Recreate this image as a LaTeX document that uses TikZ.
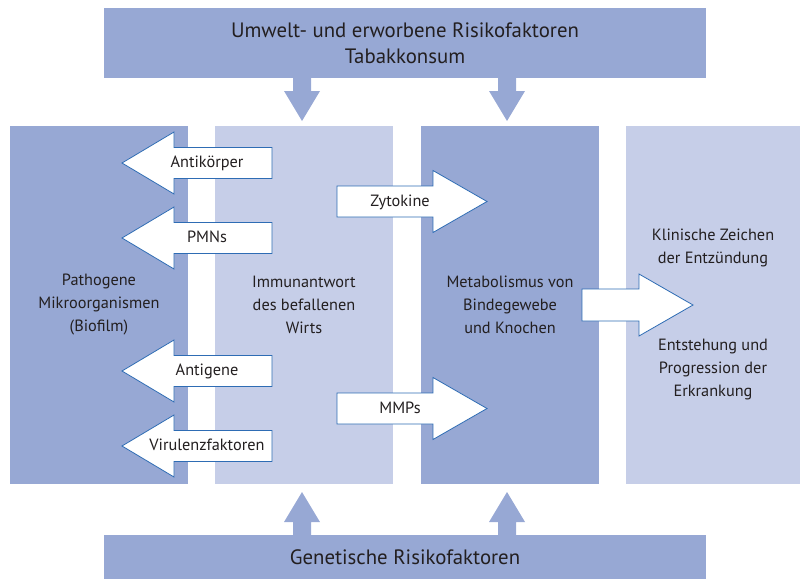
\documentclass[tikz,border=0pt]{standalone}
\usepackage{fontspec}
\setmainfont{PT Sans}
\definecolor{darkfill}{RGB}{151,168,212}
\definecolor{lightfill}{RGB}{198,206,232}
\definecolor{outl}{RGB}{46,108,180}
\definecolor{txt}{RGB}{35,31,32}
\begin{document}
\begin{tikzpicture}[x=1pt,y=-1pt,
  banner/.style={fill=darkfill,draw=none,inner sep=0pt,text=txt,align=center,font=\fontsize{20.8}{26}\selectfont},
  colbox/.style={draw=none,inner sep=0pt,minimum width=178pt,minimum height=358pt,text=txt,align=center,font=\fontsize{16.3}{23}\selectfont},
  lbl/.style={text=txt,align=center,inner sep=0pt,font=\fontsize{16.3}{23}\selectfont},
  blockarrow/.style={draw=outl,fill=white,line width=0.8pt,line join=miter},
  bigarrow/.style={fill=darkfill,draw=none}]
\useasboundingbox (0,0) rectangle (800,581);
% banners
\node[banner,minimum width=602pt,minimum height=70pt] (top) at (405,43) {Umwelt- und erworbene Risikofaktoren\\Tabakkonsum};
\node[banner,minimum width=602pt,minimum height=44pt] (bot) at (405,557) {Genetische Risikofaktoren};
% columns
\node[colbox,fill=darkfill] (c1) at (99,305) {Pathogene\\Mikroorganismen\\(Biofilm)};
\node[colbox,fill=lightfill] (c2) at (304,305) {Immunantwort\\des befallenen\\Wirts};
\node[colbox,fill=darkfill] (c3) at (510,305) {Metabolismus von\\Bindegewebe\\und Knochen};
\node[colbox,fill=lightfill,minimum width=174pt] (c4) at (713,305) {};
\node[lbl] (k1) at (713,248) {Klinische Zeichen\\der Entzündung};
\node[lbl] (k2) at (713,370) {Entstehung und\\Progression der\\Erkrankung};
% vertical arrows from banners
\foreach \cx in {302,507}{
  \fill[darkfill] (\cx-9,78) -- (\cx-9,91) -- (\cx-18,91) -- (\cx,121) -- (\cx+18,91) -- (\cx+9,91) -- (\cx+9,78) -- cycle;
  \fill[darkfill] (\cx-9,535) -- (\cx-9,522) -- (\cx-18,522) -- (\cx,492) -- (\cx+18,522) -- (\cx+9,522) -- (\cx+9,535) -- cycle;
}
% left block arrows
\foreach \yy/\tt/\nm in {163/Antikörper/a1,238/PMNs/a2,371/Antigene/a3,446/Virulenzfaktoren/a4}{
  \draw[blockarrow] (122,\yy) -- (174,\yy-31) -- (174,\yy-15.5) -- (272,\yy-15.5) -- (272,\yy+15.5) -- (174,\yy+15.5) -- (174,\yy+31) -- cycle;
  \node[lbl] (\nm) at (207,\yy) {\strut\tt};
}
% right block arrows
\foreach \yy/\tt/\nm in {201.5/Zytokine/r1,408.5/MMPs/r2}{
  \draw[blockarrow] (487,\yy) -- (433,\yy-31) -- (433,\yy-15.5) -- (337,\yy-15.5) -- (337,\yy+15.5) -- (433,\yy+15.5) -- (433,\yy+31) -- cycle;
  \node[lbl] (\nm) at (400,\yy) {\strut\tt};
}
% big arrow
\draw[blockarrow] (693,305) -- (639,274) -- (639,289) -- (582,289) -- (582,321) -- (639,321) -- (639,336) -- cycle;
\end{tikzpicture}
\end{document}
